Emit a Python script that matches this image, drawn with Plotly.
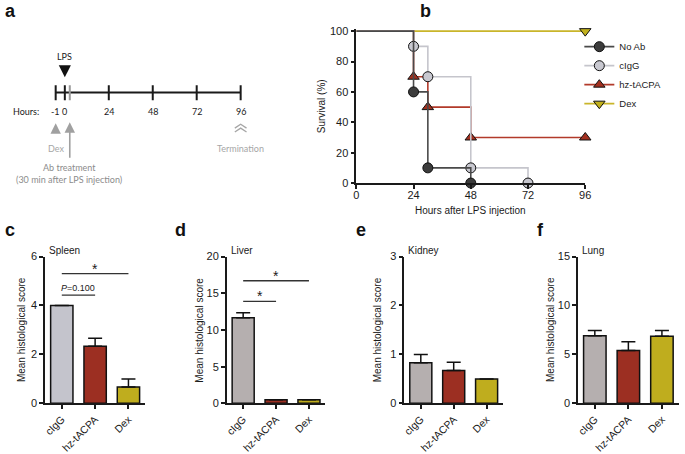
import plotly.graph_objects as go

W, H = 685, 454
FONT = "Arial, Liberation Sans, sans-serif"
SCHEME_FONT = "Lato, Liberation Sans, sans-serif"

# panel a - timeline labels and their (schematic) positions on the hours axis
timeline_labels = ["-1", "0", "24", "48", "72", "96"]
timeline_pos = [-5, 0, 24, 48, 72, 96]
ab_treatment_pos = 2.7

# panel b - Kaplan-Meier survival (%)
noab_hours = [0, 24, 30, 48]
noab_surv = [100, 60, 10, 0]
cigg_hours = [0, 24, 30, 48, 72]
cigg_surv = [100, 90, 70, 10, 0]
hz_hours = [0, 24, 30, 48, 96]
hz_surv = [100, 70, 50, 30, 30]
dex_hours = [0, 96]
dex_surv = [100, 100]

# panels c-f - mean histological score (+ SEM)
groups = ["cIgG", "hz-tACPA", "Dex"]
spleen_mean = [4.0, 2.33, 0.67]
spleen_sem = [0, 0.33, 0.33]
liver_mean = [11.67, 0.5, 0.5]
liver_sem = [0.67, 0, 0]
kidney_mean = [0.83, 0.67, 0.5]
kidney_sem = [0.17, 0.17, 0]
lung_mean = [6.9, 5.4, 6.85]
lung_sem = [0.55, 0.9, 0.6]


def px(p):
    return p / W


def py(p):
    return 1 - p / H


def gapped(vals):
    # isolated points -> markers only, but legend still shows line + marker
    out = []
    for v in vals:
        out += [v, None]
    return out[:-1]


fig = go.Figure()

# ---------------- panel b ----------------
surv_series = [
    ("Dex", dex_hours, dex_surv, "#c9b52a", "#c2b11d", "triangle-down", 4),
    ("hz-tACPA", hz_hours, hz_surv, "#b23a2a", "#a3301f", "triangle-up", 3),
    ("cIgG", cigg_hours, cigg_surv, "#c5c5cc", "#c8c8d0", "circle", 2),
    ("No Ab", noab_hours, noab_surv, "#4a4a4a", "#3c3c3c", "circle", 1),
]
for name, hrs, surv, lcol, mcol, sym, rank in surv_series:
    fig.add_trace(go.Scatter(
        x=hrs, y=surv, mode="lines", line=dict(color=lcol, width=1.6, shape="hv"),
        showlegend=False, hoverinfo="skip", xaxis="x2", yaxis="y2"))
    fig.add_trace(go.Scatter(
        x=gapped(hrs[1:]), y=gapped(surv[1:]), mode="lines+markers", name=name,
        line=dict(color=lcol, width=1.6),
        marker=dict(symbol=sym, size=10, color=mcol, line=dict(color="#111", width=1)),
        cliponaxis=False, legendrank=rank, xaxis="x2", yaxis="y2"))

# ---------------- panels c-f ----------------
cigg_col_c = "#c4c4cc"
cigg_col = "#b5afaf"
hz_col = "#9c2f22"
dex_col = "#bfad1e"
bar_panels = [
    ("x3", "y3", spleen_mean, spleen_sem, cigg_col_c),
    ("x4", "y4", liver_mean, liver_sem, cigg_col),
    ("x5", "y5", kidney_mean, kidney_sem, cigg_col),
    ("x6", "y6", lung_mean, lung_sem, cigg_col),
]
for xa, ya, mean, sem, c0 in bar_panels:
    fig.add_trace(go.Bar(
        x=groups, y=mean, xaxis=xa, yaxis=ya, showlegend=False,
        marker=dict(color=[c0, hz_col, dex_col], line=dict(color="#111", width=1.5)),
        error_y=dict(type="data", array=sem, arrayminus=[0] * len(sem), symmetric=False,
                     color="#111", thickness=1.5, width=7)))

axis_common = dict(showline=True, linecolor="#1a1a1a", linewidth=1.5, ticks="outside",
                   ticklen=4, tickwidth=1.5, tickcolor="#1a1a1a", showgrid=False,
                   zeroline=False, tickfont=dict(size=11, color="#1a1a1a"))

layout = dict(
    width=W, height=H, margin=dict(l=0, r=0, t=0, b=0),
    paper_bgcolor="white", plot_bgcolor="white",
    font=dict(family=FONT, size=10, color="#1a1a1a"),
    bargap=0.33,
    # hidden axis for the timeline sketch (padded so edge ticks are not clipped)
    xaxis=dict(domain=[px(44.1), px(250.1)], range=[-10, 101], visible=False),
    yaxis=dict(domain=[0.6, 1], range=[0, 1], visible=False),
    xaxis2=dict(domain=[px(358), px(590)], range=[0, 96], tickvals=[0, 24, 48, 72, 96],
                anchor="y2", ticklabelstandoff=-3, **axis_common),
    yaxis2=dict(domain=[py(182.7), py(23.6)], range=[0, 101.5], tickvals=[0, 20, 40, 60, 80, 100],
                anchor="x2", **axis_common),
    legend=dict(x=px(584), y=py(27), xanchor="left", yanchor="top", itemwidth=30,
                font=dict(size=9.5), bgcolor="rgba(0,0,0,0)", tracegroupgap=0),
)

bar_domains = [
    ([42.7, 144], [0, 2, 4, 6], 6),
    ([226.7, 326.7], [0, 5, 10, 15, 20], 20),
    ([406.7, 506.7], [0, 1, 2, 3], 3),
    ([582.7, 684.7], [0, 5, 10, 15], 15),
]
for i, (dom, ticks, top) in enumerate(bar_domains):
    n = i + 3
    layout["xaxis%d" % n] = dict(domain=[px(dom[0]), px(dom[1])], anchor="y%d" % n,
                                 tickangle=-45, range=[-0.5, 2.5], **axis_common)
    layout["xaxis%d" % n]["tickfont"] = dict(size=10.5, color="#1a1a1a")
    layout["yaxis%d" % n] = dict(domain=[py(410), py(258.5)], anchor="x%d" % n,
                                 range=[0, top], tickvals=ticks, **axis_common)
fig.update_layout(**layout)

ann = []
shapes = []


def note(text, x, y, xref="paper", yref="paper", size=9, color="#1a1a1a", family=SCHEME_FONT,
         xanchor="center", yanchor="middle", **kw):
    ann.append(dict(text=text, x=x, y=y, xref=xref, yref=yref, xanchor=xanchor, yanchor=yanchor,
                    showarrow=False, font=dict(size=size, color=color, family=family), **kw))


# panel letters
for letter, lx, ly in [("a", 0, 5), ("b", 421, 5), ("c", 0, 231), ("d", 172, 231),
                       ("e", 356, 231), ("f", 539, 231)]:
    note("<b>%s</b>" % letter, px(lx), py(ly), size=18, color="#111", family=FONT, xanchor="left")

# panel a timeline
y_line = py(89.3)
shapes.append(dict(type="line", xref="x", yref="paper", x0=timeline_pos[0], x1=timeline_pos[-1],
                   y0=y_line, y1=y_line, line=dict(color="#1a1a1a", width=2)))
for pos, lab in zip(timeline_pos, timeline_labels):
    shapes.append(dict(type="line", xref="x", yref="paper", x0=pos, x1=pos,
                       y0=py(97.3), y1=py(81.7), line=dict(color="#1a1a1a", width=2)))
    note(lab, pos, py(109), xref="x")
shapes.append(dict(type="line", xref="x", yref="paper", x0=ab_treatment_pos, x1=ab_treatment_pos,
                   y0=py(97.3), y1=py(81.7), line=dict(color="#999", width=2)))
note("Hours:", px(39), py(109), xanchor="right")
note("LPS", 0, py(52.3), xref="x", size=9)
ann.append(dict(text="", x=0, y=py(73.5), xref="x", yref="paper", showarrow=True, ax=0, ay=-9,
                arrowhead=2, arrowsize=1.1, arrowwidth=2.2, arrowcolor="#111"))
ann.append(dict(text="", x=timeline_pos[0], y=py(121), xref="x", yref="paper", showarrow=True,
                ax=0, ay=10, arrowhead=2, arrowsize=1.3, arrowwidth=1.6, arrowcolor="#a0a0a0"))
ann.append(dict(text="", x=ab_treatment_pos, y=py(120), xref="x", yref="paper", showarrow=True,
                ax=0, ay=37, arrowhead=2, arrowsize=1.3, arrowwidth=1.6, arrowcolor="#a0a0a0"))
note("Dex", timeline_pos[0], py(146.7), xref="x", color="#a6a6a6")
note("Ab treatment", ab_treatment_pos, py(166.7), xref="x", color="#8c8c8c")
note("(30 min after LPS injection)", ab_treatment_pos - 0.5, py(179), xref="x", color="#8c8c8c")
# termination: double chevron pointing up
t = timeline_pos[-1]
for cy in (122, 126):
    shapes.append(dict(type="path", xref="x", yref="paper",
                       path="M %f,%f L %f,%f L %f,%f" % (t - 3.2, py(cy + 4), t, py(cy), t + 3.2, py(cy + 4)),
                       line=dict(color="#a6a6a6", width=1.3)))
note("Termination", t, py(146.7), xref="x", color="#a6a6a6")

# panel b axis titles
note("Survival (%)", 0, 0.5, xref="x2 domain", yref="y2 domain", xshift=-34, textangle=-90,
     size=10, family=FONT)
note("Hours after LPS injection", 0.5, 0, xref="x2 domain", yref="y2 domain", yshift=-27,
     size=10, family=FONT)

# panels c-f titles
organs = ["Spleen", "Liver", "Kidney", "Lung"]
title_shift = [-23, -27, -26, -27]
for i, organ in enumerate(organs):
    n = i + 3
    note(organ, 0, 1, xref="x%d domain" % n, yref="y%d domain" % n, xanchor="left",
         xshift=2, yshift=6, size=10, family=FONT)
    note("Mean histological score", 0, 0.5, xref="x%d domain" % n, yref="y%d domain" % n,
         xshift=title_shift[i], textangle=-90, size=10, family=FONT)

# significance brackets
sig = [
    ("x3", "y3", 0, 2, 5.3, "*"),
    ("x3", "y3", 0, 1, 4.42, "<i>P</i>=0.100"),
    ("x4", "y4", 0, 2, 16.7, "*"),
    ("x4", "y4", 0, 1, 13.9, "*"),
]
for xa, ya, a, b, yv, lab in sig:
    shapes.append(dict(type="line", xref=xa, yref=ya, x0=a, x1=b, y0=yv, y1=yv,
                       line=dict(color="#333", width=1.3)))
    if lab == "*":
        note(lab, (a + b) / 2, yv, xref=xa, yref=ya, yanchor="bottom", yshift=-5, size=14,
             family=FONT)
    else:
        note(lab, (a + b) / 2, yv, xref=xa, yref=ya, yanchor="bottom", size=9, family=FONT)

fig.update_layout(annotations=ann, shapes=shapes)
fig.write_html("out.html", config={"displayModeBar": False},
               post_script="document.body.style.margin='0px';")
